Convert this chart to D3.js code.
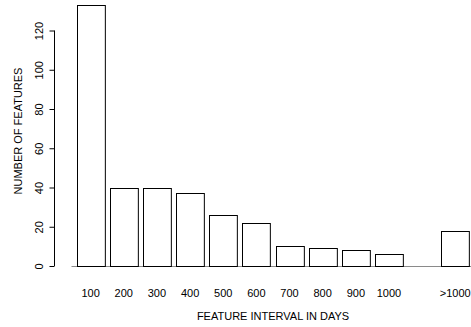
<!DOCTYPE html>
<html>
<head>
<meta charset="utf-8">
<script src="https://cdn.jsdelivr.net/npm/d3@7"></script>
<style>
  html, body { margin: 0; padding: 0; background: #fff; }
  svg { display: block; }
  text { font-family: "Liberation Sans", Arial, Helvetica, sans-serif; font-size: 11px; fill: #000; }
</style>
</head>
<body>
<svg id="chart" width="471" height="327"></svg>
<script>
// Feature interval histogram (counts per 100-day bin)
const categories = ["100", "200", "300", "400", "500", "600", "700", "800", "900", "1000", "", ">1000"];
const counts = [133, 40, 40, 37, 26, 22, 10, 9, 8, 6, 0, 18];
const yTicks = [0, 20, 40, 60, 80, 100, 120];
const xTitle = "FEATURE INTERVAL IN DAYS";
const yTitle = "NUMBER OF FEATURES";

const svg = d3.select("#chart");

const step = 33.15;
const x = d3.scaleBand()
  .domain(categories.map((c, i) => i))
  .range([74.05, 74.05 + step * categories.length])
  .paddingInner(0.16)
  .paddingOuter(0.08);

const y = d3.scaleLinear().domain([0, 120]).range([266, 30.5]);

// baseline across the plot
svg.append("line")
  .attr("x1", 71.5).attr("x2", 471)
  .attr("y1", y(0) + 0.5).attr("y2", y(0) + 0.5)
  .attr("stroke", "#8a8a8a").attr("stroke-width", 1);

// bars
svg.append("g").selectAll("rect")
  .data(counts)
  .join("rect")
  .attr("x", (d, i) => Math.round(x(i)) + 0.5)
  .attr("y", d => Math.round(y(d)) + 0.5)
  .attr("width", x.bandwidth())
  .attr("height", d => Math.round(y(0)) - Math.round(y(d)))
  .attr("fill", "#fff")
  .attr("stroke", "#000")
  .attr("stroke-width", 1);

// category labels
svg.append("g").selectAll("text")
  .data(categories)
  .join("text")
  .attr("x", (d, i) => x(i) + x.bandwidth() / 2)
  .attr("y", 297)
  .attr("text-anchor", "middle")
  .text(d => d);

// y axis
const yAxis = d3.axisLeft(y).tickValues(yTicks).tickSize(5).tickPadding(0).tickFormat(d3.format("d"));
const ga = svg.append("g").attr("transform", "translate(54.5,0)").call(yAxis);
ga.select(".domain").attr("d", `M-0,${y(0)}V${y(120)}`).attr("stroke", "#000");
ga.selectAll(".tick line").attr("stroke", "#000");
ga.selectAll(".tick text")
  .attr("x", null).attr("dy", null)
  .attr("transform", "translate(-12,0) rotate(-90)")
  .attr("text-anchor", "middle")
  .attr("font-size", 11)
  .attr("font-family", "Liberation Sans, Arial, sans-serif");

// axis titles
svg.append("text")
  .attr("x", 273).attr("y", 319.5)
  .attr("text-anchor", "middle")
  .text(xTitle);

svg.append("text")
  .attr("transform", "translate(22,131) rotate(-90)")
  .attr("text-anchor", "middle")
  .text(yTitle);
</script>
</body>
</html>
